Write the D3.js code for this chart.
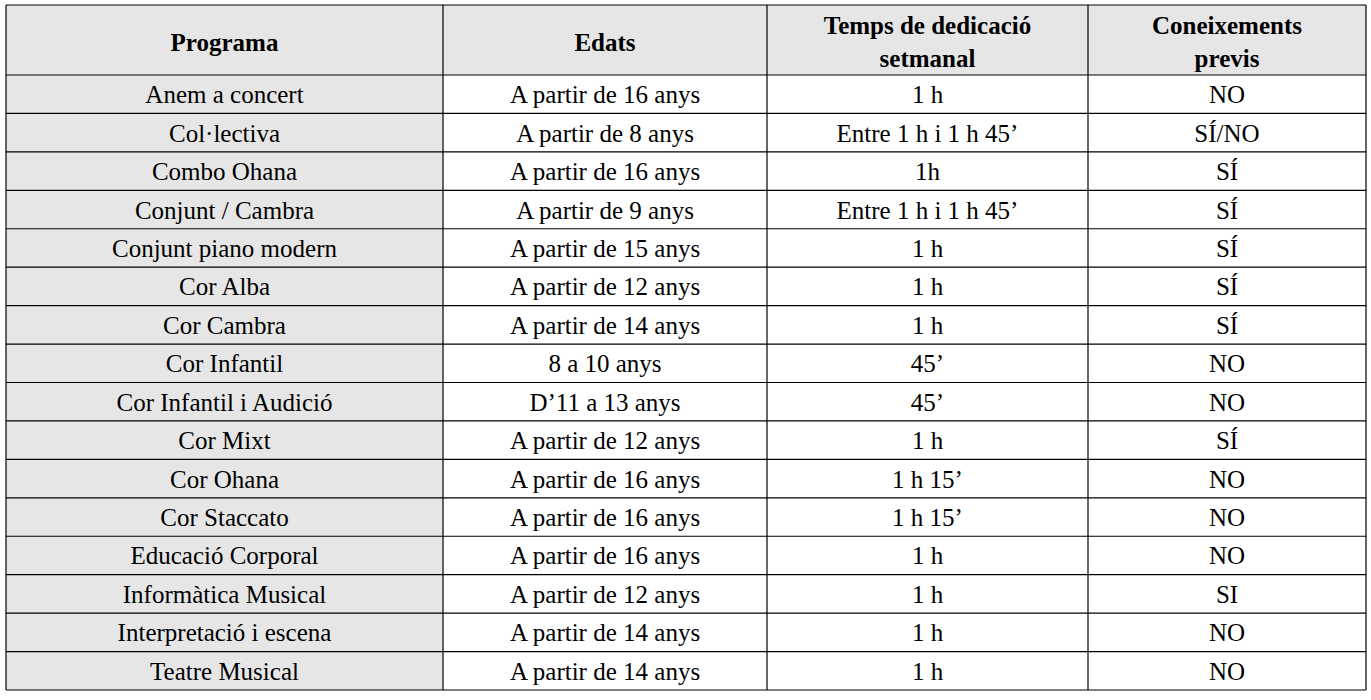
<!DOCTYPE html>
<html><head><meta charset="utf-8">
<script src="https://cdn.jsdelivr.net/npm/d3@7/dist/d3.min.js"></script>
<style>body{margin:0;background:#fff}</style></head>
<body><svg id="c" width="1371" height="700"></svg>
<script>
const headers = [["Programa"],["Edats"],["Temps de dedicació","setmanal"],["Coneixements","previs"]];
const programa = ["Anem a concert","Col·lectiva","Combo Ohana","Conjunt / Cambra","Conjunt piano modern","Cor Alba","Cor Cambra","Cor Infantil","Cor Infantil i Audició","Cor Mixt","Cor Ohana","Cor Staccato","Educació Corporal","Informàtica Musical","Interpretació i escena","Teatre Musical"];
const edats = ["A partir de 16 anys","A partir de 8 anys","A partir de 16 anys","A partir de 9 anys","A partir de 15 anys","A partir de 12 anys","A partir de 14 anys","8 a 10 anys","D’11 a 13 anys","A partir de 12 anys","A partir de 16 anys","A partir de 16 anys","A partir de 16 anys","A partir de 12 anys","A partir de 14 anys","A partir de 14 anys"];
const temps = ["1 h","Entre 1 h i 1 h 45’","1h","Entre 1 h i 1 h 45’","1 h","1 h","1 h","45’","45’","1 h","1 h 15’","1 h 15’","1 h","1 h","1 h","1 h"];
const previs = ["NO","SÍ/NO","SÍ","SÍ","SÍ","SÍ","SÍ","NO","NO","SÍ","NO","NO","NO","SI","NO","NO"];

const colEdges = [6,443,767,1088,1366];
const tableTop = 5, headBottom = 75, tableBottom = 690;
const svg = d3.select("#c");
const y = d3.scaleBand().domain(d3.range(programa.length)).range([headBottom,tableBottom]);
const cols = [programa,edats,temps,previs];
const font = "'Liberation Serif','Times New Roman',serif";

svg.append("rect").attr("x",colEdges[0]).attr("y",tableTop).attr("width",colEdges[4]-colEdges[0]).attr("height",headBottom-tableTop).attr("fill","#e6e6e6");
svg.append("rect").attr("x",colEdges[0]).attr("y",headBottom).attr("width",colEdges[1]-colEdges[0]).attr("height",tableBottom-headBottom).attr("fill","#e6e6e6");

headers.forEach((h,i)=>{
  const cx=(colEdges[i]+colEdges[i+1])/2;
  const t=svg.append("text").attr("text-anchor","middle").attr("font-family",font).attr("font-weight","bold").attr("font-size",25).attr("fill","#000");
  if(h.length===1) t.append("tspan").attr("x",cx).attr("y",51).text(h[0]);
  else { t.append("tspan").attr("x",cx).attr("y",34).text(h[0]); t.append("tspan").attr("x",cx).attr("y",67).text(h[1]); }
});

cols.forEach((col,i)=>{
  const cx=(colEdges[i]+colEdges[i+1])/2;
  svg.selectAll(null).data(col).enter().append("text")
    .attr("x",cx).attr("y",(d,j)=>y(j)+y.bandwidth()/2+9)
    .attr("text-anchor","middle").attr("font-family",font).attr("font-size",25).attr("fill","#000").text(d=>d);
});

const g=svg.append("g").attr("stroke","#000").attr("stroke-width",1.2);
[tableTop,headBottom,...d3.range(1,programa.length).map(j=>y(j)),tableBottom].forEach(v=>g.append("line").attr("x1",colEdges[0]).attr("x2",colEdges[4]).attr("y1",v).attr("y2",v));
colEdges.forEach(v=>g.append("line").attr("x1",v).attr("x2",v).attr("y1",tableTop).attr("y2",tableBottom));
</script></body></html>
